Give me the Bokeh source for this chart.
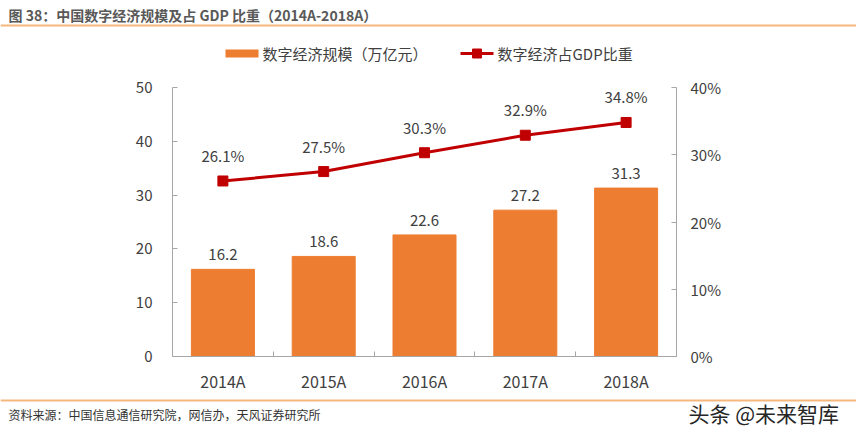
from bokeh.plotting import figure
from bokeh.layouts import column
from bokeh.models import (Range1d, LinearAxis, FixedTicker, PrintfTickFormatter,
                          ColumnDataSource, LabelSet)
from bokeh.core.properties import value
from bokeh.embed import file_html
from bokeh.resources import INLINE

# Data
years = ["2014A", "2015A", "2016A", "2017A", "2018A"]
scale = [16.2, 18.6, 22.6, 27.2, 31.3]          # 数字经济规模（万亿元）
share = [26.1, 27.5, 30.3, 32.9, 34.8]          # 占GDP比重（%）
left_ticks = [0, 10, 20, 30, 40, 50]
right_ticks = [0, 10, 20, 30, 40]

title_text = "图 38：中国数字经济规模及占 GDP 比重（2014A-2018A）"
legend_bar = "数字经济规模（万亿元）"
legend_line = "数字经济占GDP比重"
source_text = "资料来源：中国信息通信研究院，网信办，天风证券研究所"
mark_text = "头条 @未来智库"

FONT = "Noto Sans CJK SC"
TXT = "#404040"
AXIS = "#A6A6A6"
BAR = "#ED7D31"
LINE = "#C00000"
RULE = "#F6B77F"

W = 856
HEAD_H, MAIN_H, FOOT_H = 70, 325, 37


def blank(height):
    """A bare figure whose frame covers the whole canvas, y measured downward."""
    f = figure(width=W, height=height, output_backend="svg", toolbar_location=None,
               x_range=Range1d(0, W), y_range=Range1d(height, 0),
               min_border=0, x_axis_location=None, y_axis_location=None)
    f.outline_line_color = None
    f.xgrid.visible = False
    f.ygrid.visible = False
    f.frame_align = False
    return f


# Header: title, rule and legend
head = blank(HEAD_H)
head.text(x=[8], y=[14], text=[title_text], text_font=value(FONT), text_font_size="14px",
          text_font_style="bold", text_color="#595959", text_baseline="middle")
head.segment(x0=[0], y0=[25], x1=[W], y1=[25], line_color=RULE, line_width=2)
head.rect(x=[241.5], y=[53], width=33, height=8, fill_color=BAR, line_color=None)
head.text(x=[262], y=[53], text=[legend_bar], text_font=value(FONT), text_font_size="15px",
          text_color=TXT, text_baseline="middle")
head.segment(x0=[460], y0=[53], x1=[493], y1=[53], line_color=LINE, line_width=3)
head.scatter(x=[476.5], y=[53], marker="square", size=9, fill_color=LINE, line_color=LINE)
head.text(x=[497], y=[53], text=[legend_line], text_font=value(FONT), text_font_size="15px",
          text_color=TXT, text_baseline="middle")

# Main chart
p = figure(width=W, height=MAIN_H, output_backend="svg", toolbar_location=None,
           x_range=Range1d(0, len(years)), y_range=Range1d(0, 50),
           min_border_left=172, min_border_right=180, min_border_top=17, min_border_bottom=39,
           x_axis_location=None, y_axis_location=None)
p.outline_line_color = None
p.xgrid.visible = False
p.ygrid.visible = False
p.frame_align = False
p.extra_y_ranges = {"pct": Range1d(0, 40)}

xc = [i + 0.5 for i in range(len(years))]
src = ColumnDataSource(dict(x=xc, scale=scale, share=share,
                            scale_txt=[f"{v:.1f}" for v in scale],
                            share_txt=[f"{v:.1f}%" for v in share]))

xaxis = LinearAxis(ticker=FixedTicker(ticks=xc, minor_ticks=list(range(len(years) + 1))),
                   major_label_overrides={x: y for x, y in zip(xc, years)})
yl = LinearAxis(ticker=FixedTicker(ticks=left_ticks))
yr = LinearAxis(y_range_name="pct", ticker=FixedTicker(ticks=right_ticks),
                formatter=PrintfTickFormatter(format="%d%%"))
for ax in (xaxis, yl, yr):
    ax.axis_line_color = AXIS
    ax.axis_line_width = 1
    ax.major_tick_line_color = AXIS
    ax.minor_tick_line_color = AXIS
    ax.major_tick_in = 5
    ax.major_tick_out = 0
    ax.minor_tick_in = 5
    ax.minor_tick_out = 0
    ax.major_label_text_font = FONT
    ax.major_label_text_font_size = "15px"
    ax.major_label_text_color = TXT
xaxis.major_tick_line_color = None
xaxis.major_label_standoff = 12
xaxis.major_label_text_font_size = "16px"
yl.major_label_standoff = 20
yr.major_label_standoff = 14
yl.minor_tick_line_color = None
yr.minor_tick_line_color = None
p.add_layout(xaxis, "below")
p.add_layout(yl, "left")
p.add_layout(yr, "right")

p.vbar(x="x", top="scale", width=0.625, source=src, color=BAR)
p.line(x="x", y="share", source=src, y_range_name="pct", line_color=LINE, line_width=3)
p.scatter(x="x", y="share", source=src, y_range_name="pct", marker="square",
          size=10, fill_color=LINE, line_color=LINE)

p.add_layout(LabelSet(x="x", y="scale", text="scale_txt", source=src, y_offset=9,
                      text_align="center", text_baseline="bottom", text_font=value(FONT),
                      text_font_size="15px", text_color=TXT))
p.add_layout(LabelSet(x="x", y="share", text="share_txt", source=src, y_range_name="pct",
                      y_offset=15, text_align="center", text_baseline="bottom",
                      text_font=value(FONT), text_font_size="15px", text_color=TXT))

# Footer: rule, source note and mark
foot = blank(FOOT_H)
foot.segment(x0=[0], y0=[5], x1=[W], y1=[5], line_color=RULE, line_width=2)
foot.text(x=[8], y=[19], text=[source_text], text_font=value(FONT), text_font_size="12px",
          text_color="#333333", text_baseline="middle")
foot.text(x=[688], y=[17], text=[mark_text], text_font=value(FONT), text_font_size="21px",
          text_color="#262626", text_baseline="middle")

page = column(head, p, foot, spacing=0)
open("out.html", "w").write(file_html(page, INLINE))
